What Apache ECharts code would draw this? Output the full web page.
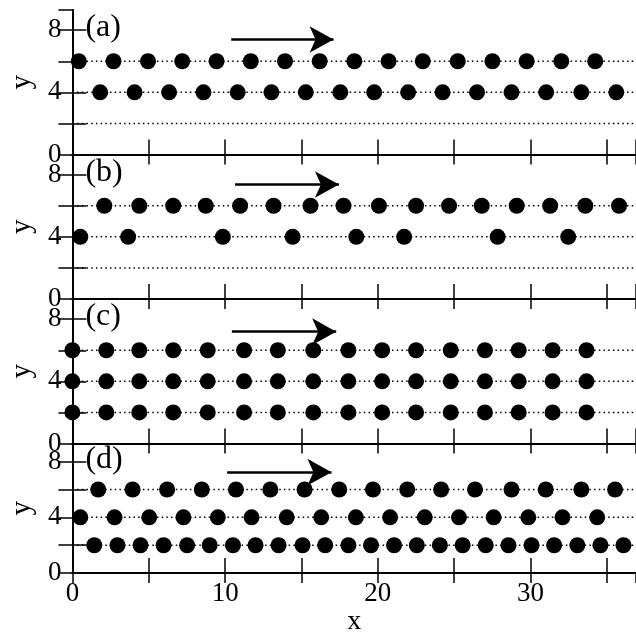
<!DOCTYPE html>
<html>
<head>
<meta charset="utf-8">
<script src="https://cdn.jsdelivr.net/npm/echarts@6/dist/echarts.min.js"></script>
<style>
html,body{margin:0;padding:0;background:#fff;}
#chart{width:636px;height:637px;}
</style>
</head>
<body>
<div id="chart"></div>
<script>
// ---- data ----
const panelLabels = ['(a)', '(b)', '(c)', '(d)'];
const laneYs = [2, 4, 6];
const xTicks = [0, 10, 20, 30];
const yTickLabels = [0, 4, 8];

const aRow6 = [0.42, 2.69, 4.95, 7.19, 9.44, 11.68, 13.92, 16.19, 18.46, 20.70, 22.94, 25.23, 27.50, 29.74, 32.01, 34.23];
const aRow4 = [1.82, 4.07, 6.33, 8.58, 10.82, 13.03, 15.28, 17.54, 19.76, 21.98, 24.24, 26.49, 28.75, 31.02, 33.32, 35.61];

const bRow6 = [2.09, 4.38, 6.60, 8.73, 10.98, 13.17, 15.59, 17.75, 20.07, 22.50, 24.66, 26.80, 29.09, 31.28, 33.58, 35.79];
const bRow4 = [0.52, 3.65, 9.85, 14.42, 18.59, 21.72, 27.84, 32.46];

const cRow6 = [0, 2.22, 4.38, 6.60, 8.86, 11.24, 13.45, 15.77, 18.07, 20.28, 22.50, 24.77, 27.01, 29.22, 31.44, 33.66];
const cRow4 = [0, 2.22, 4.38, 6.60, 8.86, 11.24, 13.45, 15.77, 18.07, 20.28, 22.50, 24.77, 27.01, 29.22, 31.44, 33.66];
const cRow2 = [0, 2.22, 4.38, 6.60, 8.86, 11.24, 13.45, 15.77, 18.07, 20.28, 22.50, 24.77, 27.01, 29.22, 31.44, 33.66];

const dRow6 = [1.69, 3.94, 6.20, 8.47, 10.71, 12.96, 15.20, 17.47, 19.68, 21.92, 24.14, 26.36, 28.75, 30.99, 33.32, 35.53];
const dRow4 = [0.52, 2.76, 5.03, 7.27, 9.52, 11.73, 14.03, 16.29, 18.56, 20.80, 23.07, 25.31, 27.58, 29.85, 32.09, 34.36];
const dRow2 = [1.43, 2.95, 4.46, 5.97, 7.51, 8.99, 10.51, 11.99, 13.50, 15.07, 16.55, 18.07, 19.55, 21.06, 22.55, 24.06, 25.55, 27.06, 28.55, 30.06, 31.54, 33.06, 34.57, 36.08];

const arrowStart = [10.4, 10.65, 10.44, 10.13];
const arrowEnd   = [17.1, 17.45, 17.27, 16.96];
const arrowY     = [7.4, 7.37, 7.2, 7.24];

const panelRows = [
  [[6, aRow6], [4, aRow4]],
  [[6, bRow6], [4, bRow4]],
  [[6, cRow6], [4, cRow4], [2, cRow2]],
  [[6, dRow6], [4, dRow4], [2, dRow2]]
];

// ---- layout / style ----
const X_MAX = 36.9, Y_MAX = 9.3;
const tops = [10, 154.5, 299, 443.5];
const H = 144.5;
const FONT = 'Liberation Serif, Times New Roman, serif';
const axisLine = {show: true, lineStyle: {color: '#000', width: 2}};

const grids = [], xAxes = [], yAxes = [], series = [];
tops.forEach((t, i) => {
  grids.push({left: 62, right: 0, top: t, height: H, containLabel: false});
  const last = i === 3;
  xAxes.push({
    type: 'value', gridIndex: i, min: 0, max: X_MAX, interval: 5, position: 'bottom',
    axisLine: axisLine,
    axisTick: {show: true, inside: true, length: 15, lineStyle: {color: '#000', width: 1.5}},
    splitLine: {show: false},
    axisLabel: {
      show: last, margin: 7, color: '#000', fontFamily: FONT, fontSize: 27,
      showMaxLabel: false,
      formatter: v => (xTicks.indexOf(v) >= 0 ? String(v) : '')
    },
    name: last ? 'x' : '', nameLocation: 'middle', nameGap: 26,
    nameTextStyle: {color: '#000', fontFamily: FONT, fontSize: 28}
  });
  xAxes.push({
    type: 'value', gridIndex: i, min: 0, max: X_MAX, interval: 5, position: 'top',
    axisLine: axisLine,
    axisTick: {show: true, inside: true, length: 10, lineStyle: {color: '#000', width: 1.5}},
    splitLine: {show: false}, axisLabel: {show: false}
  });
  yAxes.push({
    type: 'value', gridIndex: i, min: 0, max: Y_MAX, interval: 2, position: 'left',
    axisLine: axisLine,
    axisTick: {show: true, inside: true, length: 14, lineStyle: {color: '#000', width: 1.5}},
    splitLine: {show: false},
    axisLabel: {
      show: true, margin: 11, color: '#000', fontFamily: FONT, fontSize: 27,
      showMaxLabel: false,
      formatter: v => (yTickLabels.indexOf(v) >= 0 ? String(v) : '')
    },
    name: 'y', nameLocation: 'middle', nameGap: 33,
    nameTextStyle: {color: '#000', fontFamily: FONT, fontSize: 29}
  });
  yAxes.push({
    type: 'value', gridIndex: i, min: 0, max: Y_MAX, interval: 2, position: 'right',
    axisLine: axisLine,
    axisTick: {show: true, inside: true, length: 14, lineStyle: {color: '#000', width: 1.5}},
    splitLine: {show: false}, axisLabel: {show: false}
  });

  const xi = 2 * i, yi = 2 * i;
  laneYs.forEach(ly => {
    series.push({
      type: 'line', xAxisIndex: xi, yAxisIndex: yi, symbol: 'none', silent: true, z: 1,
      data: [[0, ly], [X_MAX, ly]],
      lineStyle: {color: '#000', width: 1.5, type: [1.5, 3.2]}
    });
  });
  panelRows[i].forEach(([ry, xs]) => {
    series.push({
      type: 'scatter', xAxisIndex: xi, yAxisIndex: yi, clip: false, z: 3,
      symbol: 'circle', symbolSize: 16, itemStyle: {color: '#000', opacity: 1},
      data: xs.map(x => [x, ry])
    });
  });
  series.push({
    type: 'line', xAxisIndex: xi, yAxisIndex: yi, data: [], z: 4,
    markLine: {
      silent: true, symbol: ['none', 'arrow'], symbolSize: [20, 24],
      label: {show: false},
      lineStyle: {color: '#000', width: 2.5, type: 'solid', opacity: 1},
      data: [[{coord: [arrowStart[i], arrowY[i]]}, {coord: [arrowEnd[i], arrowY[i]]}]]
    }
  });
  series.push({
    type: 'scatter', xAxisIndex: xi, yAxisIndex: yi, symbolSize: 0, silent: true, z: 5,
    itemStyle: {color: '#000', opacity: 1},
    data: [[0.85, 8.15]],
    label: {
      show: true, position: 'right', distance: 0, formatter: panelLabels[i],
      color: '#000', opacity: 1, fontFamily: FONT, fontSize: 32
    }
  });
});

const chart = echarts.init(document.getElementById('chart'), null, {renderer: 'canvas'});
chart.setOption({
  animation: false,
  backgroundColor: '#fff',
  grid: grids, xAxis: xAxes, yAxis: yAxes, series: series
});
</script>
</body>
</html>
